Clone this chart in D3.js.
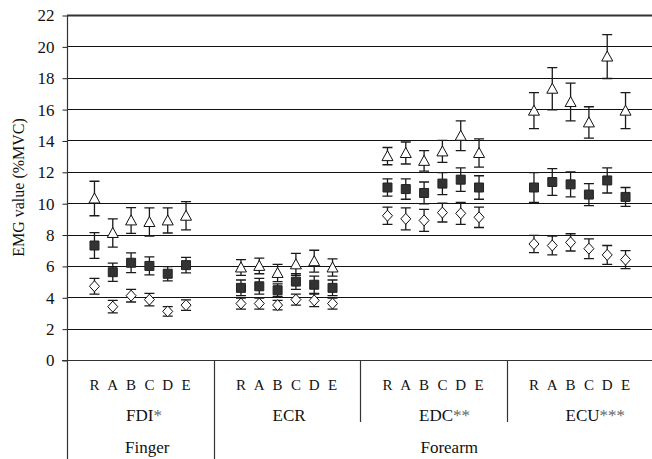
<!DOCTYPE html>
<html>
<head>
<meta charset="utf-8">
<script src="https://cdn.jsdelivr.net/npm/d3@7"></script>
<style>
  body { margin: 0; background: #fff; }
  svg text { font-family: "Liberation Serif", "Times New Roman", Times, serif; fill: #111; }
</style>
</head>
<body>
<svg id="chart" width="652" height="459"></svg>
<script>
// conditions within each muscle
const conditions = ["R", "A", "B", "C", "D", "E"];
// muscles (name + significance marks)
const muscles = ["FDI", "ECR", "EDC", "ECU"];
const muscleStars = ["*", "", "**", "***"];
// regions and how many muscles each one spans
const regions = ["Finger", "Forearm"];
const regionSpan = [1, 3];
const yTicks = [0, 2, 4, 6, 8, 10, 12, 14, 16, 18, 20, 22];

// open triangles
const triMean = [
  [10.3, 8.1, 8.9, 8.8, 8.9, 9.2],
  [5.9, 6.0, 5.55, 6.1, 6.3, 5.9],
  [13.0, 13.2, 12.7, 13.3, 14.3, 13.2],
  [15.9, 17.3, 16.45, 15.15, 19.35, 15.9]
];
const triErr = [
  [1.1, 0.9, 0.82, 0.9, 0.8, 0.9],
  [0.5, 0.5, 0.55, 0.7, 0.7, 0.55],
  [0.55, 0.7, 0.65, 0.7, 0.95, 0.9],
  [1.15, 1.35, 1.2, 1.0, 1.4, 1.15]
];
// filled squares
const sqMean = [
  [7.3, 5.6, 6.2, 6.0, 5.5, 6.05],
  [4.6, 4.7, 4.45, 5.0, 4.8, 4.6],
  [11.0, 10.9, 10.65, 11.25, 11.5, 11.0],
  [11.0, 11.35, 11.2, 10.55, 11.45, 10.4]
];
const sqErr = [
  [0.82, 0.58, 0.63, 0.57, 0.45, 0.5],
  [0.5, 0.5, 0.4, 0.5, 0.55, 0.5],
  [0.55, 0.65, 0.7, 0.7, 0.75, 0.75],
  [0.95, 0.85, 0.8, 0.7, 0.8, 0.6]
];
// open diamonds
const diaMean = [
  [4.7, 3.4, 4.1, 3.85, 3.1, 3.5],
  [3.6, 3.6, 3.5, 3.85, 3.8, 3.6],
  [9.2, 9.0, 8.9, 9.4, 9.35, 9.1],
  [7.4, 7.3, 7.5, 7.1, 6.7, 6.4]
];
const diaErr = [
  [0.5, 0.4, 0.4, 0.4, 0.3, 0.33],
  [0.35, 0.35, 0.3, 0.35, 0.4, 0.35],
  [0.55, 0.7, 0.7, 0.6, 0.7, 0.65],
  [0.55, 0.6, 0.55, 0.63, 0.6, 0.57]
];

const FONT = "Liberation Serif";
const svg = d3.select("#chart");
const plotLeft = 67, plotRight = 653, plotTop = 15, plotBottom = 360;
const slotsPerGroup = conditions.length + 2;

// each muscle gets 8 slots: one empty on each side of the 6 conditions
let x = d3.scaleBand()
  .domain(d3.range(muscles.length * slotsPerGroup))
  .range([plotLeft, plotRight]);
let y = d3.scaleLinear().domain([0, 22]).range([plotBottom, plotTop]);

const slotX = (g, i) => x(g * slotsPerGroup + 1 + i) + x.bandwidth() / 2;
const groupX = g => x(g * slotsPerGroup);
const groupW = x.bandwidth() * slotsPerGroup;

// gridlines
svg.append("g").selectAll("line")
  .data(yTicks.filter(d => d > 0))
  .enter().append("line")
  .attr("x1", plotLeft).attr("x2", 652)
  .attr("y1", d => Math.round(y(d)) + 0.5)
  .attr("y2", d => Math.round(y(d)) + 0.5)
  .attr("stroke", d => d == 22 ? "#333" : "#111")
  .attr("stroke-width", d => d == 22 ? 2 : 1);

// y axis
let yAxis = d3.axisLeft(y).tickValues(yTicks).tickSize(5).tickSizeOuter(0).tickPadding(8);
let ya = svg.append("g").attr("transform", "translate(" + (plotLeft + 0.5) + ",0.5)").call(yAxis);
ya.attr("font-family", FONT).attr("font-size", 16);
ya.select(".domain").remove();
ya.selectAll("line").attr("stroke", "#222");
ya.selectAll("text").style("font-family", FONT).style("font-size", "17px").attr("fill", "#111");
svg.append("line")
  .attr("x1", plotLeft + 0.5).attr("x2", plotLeft + 0.5)
  .attr("y1", plotTop).attr("y2", 459)
  .attr("stroke", "#333").attr("stroke-width", 1.2);

svg.append("text")
  .attr("transform", "translate(24," + ((plotTop + plotBottom) / 2) + ") rotate(-90)")
  .attr("text-anchor", "middle")
  .style("font-family", FONT)
  .style("font-size", "16px")
  .text("EMG value (%MVC)");

// x axis baseline
svg.append("line")
  .attr("x1", plotLeft - 5).attr("x2", 652)
  .attr("y1", plotBottom + 0.5).attr("y2", plotBottom + 0.5)
  .attr("stroke", "#333").attr("stroke-width", 1.2);

// separators between muscles; region boundary goes all the way down
let regionEdge = [];
let acc = 0;
regionSpan.forEach(s => { acc += s; regionEdge.push(acc); });
for (let g = 1; g < muscles.length; g++) {
  let xe = Math.round(groupX(g)) + 0.5;
  svg.append("line")
    .attr("x1", xe).attr("x2", xe)
    .attr("y1", plotBottom).attr("y2", regionEdge.includes(g) ? 459 : 422)
    .attr("stroke", "#333").attr("stroke-width", 1.2);
}

// condition letters and muscle names
muscles.forEach((m, g) => {
  svg.append("g").selectAll("text")
    .data(conditions)
    .enter().append("text")
    .attr("x", (d, i) => slotX(g, i))
    .attr("y", 390)
    .attr("text-anchor", "middle")
    .style("font-family", FONT)
    .style("font-size", "15px")
    .text(d => d);

  let t = svg.append("text")
    .attr("x", groupX(g) + 59)
    .attr("y", 421)
    .style("font-family", FONT)
    .style("font-size", "17px");
  t.append("tspan").text(m);
  if (muscleStars[g]) t.append("tspan").attr("fill", "#666").text(muscleStars[g]);
});

// region labels
let start = 0;
regions.forEach((r, k) => {
  let x0 = groupX(start);
  let w = groupW * regionSpan[k];
  svg.append("text")
    .attr("x", x0 + w / 2 + (k == 0 ? 7 : 16))
    .attr("y", 453)
    .attr("text-anchor", "middle")
    .style("font-family", FONT)
    .style("font-size", "17px")
    .text(r);
  start += regionSpan[k];
});

// series
function drawSeries(means, errs, shape) {
  let pts = [];
  means.forEach((row, g) => row.forEach((v, i) => {
    pts.push({ x: slotX(g, i), v: v, e: errs[g][i] });
  }));
  let eg = svg.append("g").attr("stroke", "#1a1a1a").attr("stroke-width", 1.3);
  eg.selectAll(".bar").data(pts).enter().append("path")
    .attr("fill", "none")
    .attr("d", d => {
      let yt = y(d.v + d.e), yb = y(d.v - d.e), c = 5;
      return "M" + (d.x - c) + "," + yt + "H" + (d.x + c)
        + "M" + d.x + "," + yt + "V" + yb
        + "M" + (d.x - c) + "," + yb + "H" + (d.x + c);
    });
  let mg = svg.append("g");
  mg.selectAll("path").data(pts).enter().append("path")
    .attr("transform", d => "translate(" + d.x + "," + y(d.v) + ")")
    .attr("d", shape.d)
    .attr("fill", shape.fill)
    .attr("stroke", shape.stroke)
    .attr("stroke-width", 1);
}

drawSeries(triMean, triErr, { d: "M0,-5.5L5.5,4.5L-5.5,4.5Z", fill: "#fff", stroke: "#111" });
drawSeries(sqMean, sqErr, { d: "M-4.5,-4.5H4.5V4.5H-4.5Z", fill: "#333", stroke: "#222" });
drawSeries(diaMean, diaErr, { d: "M0,-5.5L5,0L0,5.5L-5,0Z", fill: "#fff", stroke: "#111" });
</script>
</body>
</html>
